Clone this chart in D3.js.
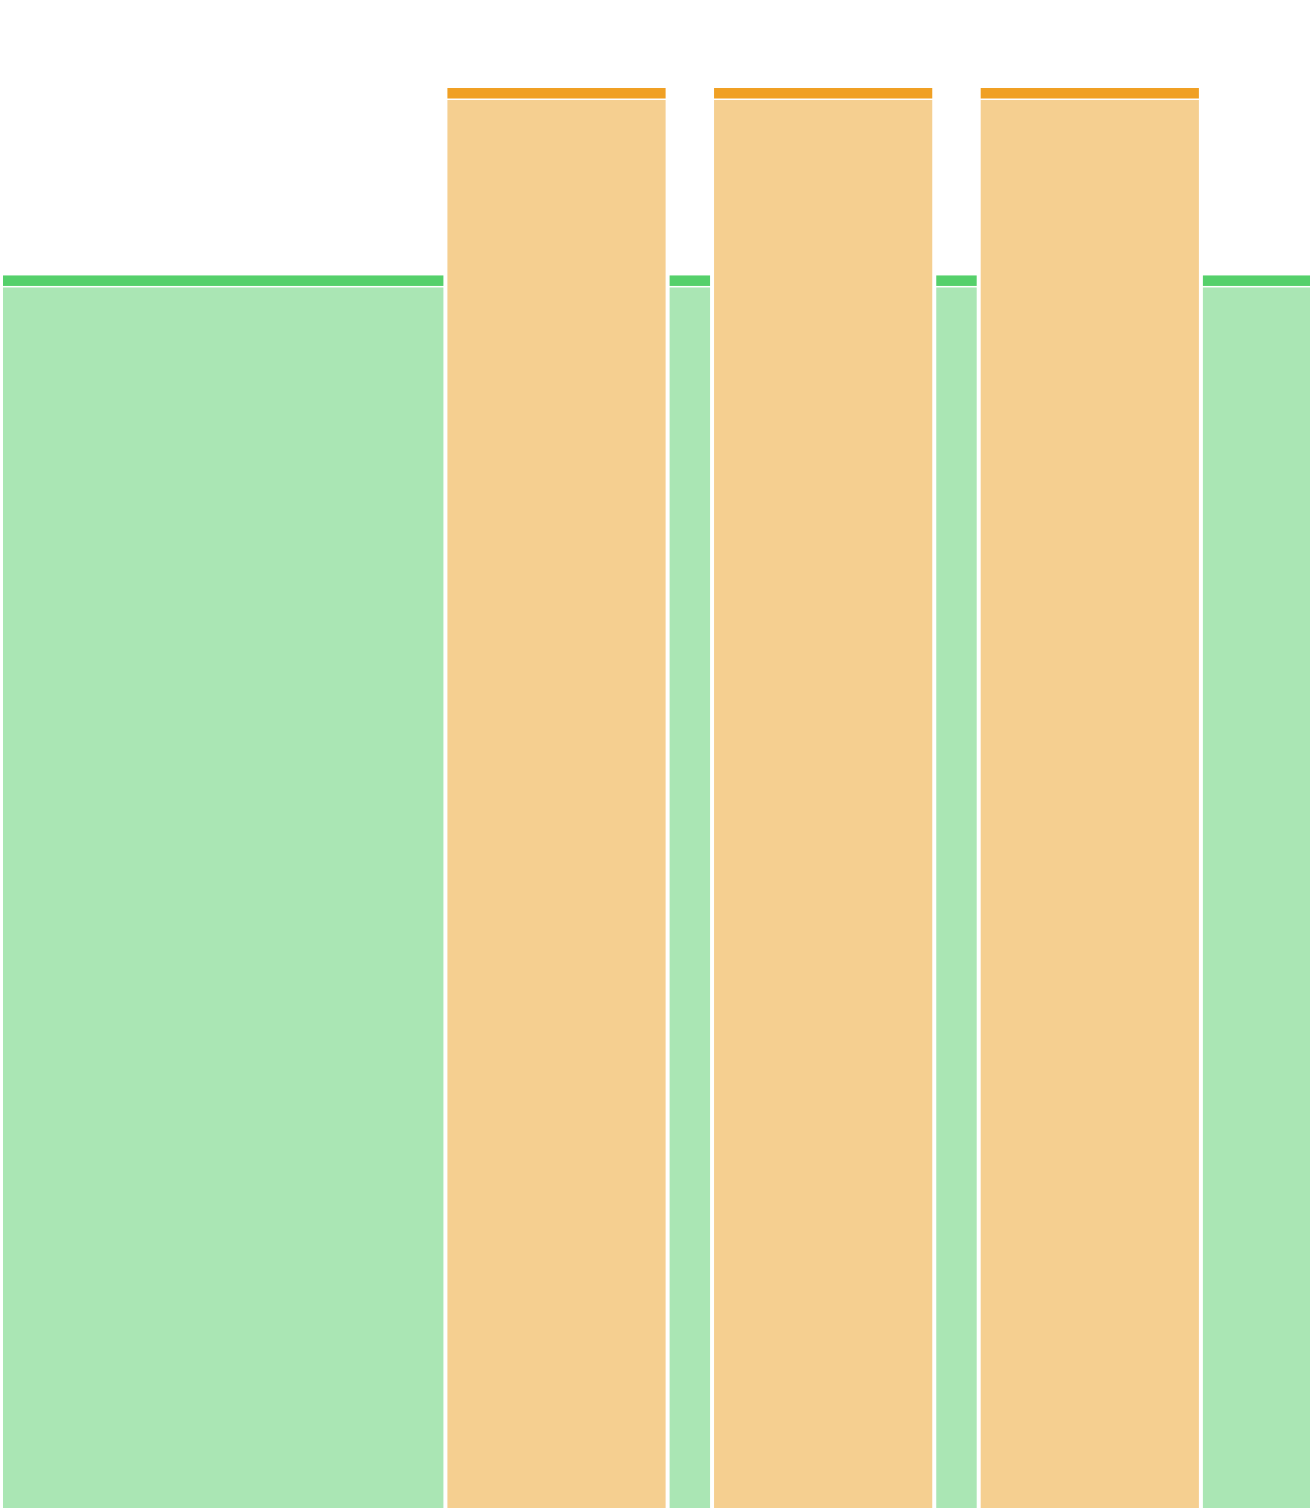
<!DOCTYPE html>
<html>
<head>
<meta charset="utf-8">
<script src="https://cdn.jsdelivr.net/npm/d3@7"></script>
<style>
  html, body { margin: 0; padding: 0; background: #fff; }
  svg { display: block; }
</style>
</head>
<body>
<div id="chart"></div>
<script>
var width = 1312, height = 1508;

// segments in order, left to right
var segmentKind = ["green", "orange", "green", "orange", "green", "orange", "green"];
var segmentLength = [20, 10, 2, 10, 2, 10, 5];
var kindValue = { green: 86.8, orange: 100 };

var bandColor = { green: "#55d06b", orange: "#f0a024" };
var fillColor = { green: "#aae6b4", orange: "#f5cf90" };

// build start/end from lengths
var segments = [];
var pos = 0;
for (var i = 0; i < segmentKind.length; i++) {
    segments.push({ kind: segmentKind[i], start: pos, end: pos + segmentLength[i], value: kindValue[segmentKind[i]] });
    pos += segmentLength[i];
}

var x = d3.scaleLinear()
    .domain([0, pos])
    .range([1, width]);

var y = d3.scaleLinear()
    .domain([0, 100])
    .range([height, 88]);

var svg = d3.select("#chart").append("svg")
    .attr("width", width)
    .attr("height", height)
    .attr("viewBox", [0, 0, width, height]);

var pad = 2, band = 10.5, gap = 1.5;

var g = svg.append("g");

var seg = g.selectAll(".seg")
    .data(segments)
    .enter().append("g")
    .attr("class", "seg");

// top band
seg.append("rect")
    .attr("x", function (d) { return x(d.start) + pad; })
    .attr("width", function (d) { return x(d.end) - x(d.start) - 2 * pad; })
    .attr("y", function (d) { return y(d.value); })
    .attr("height", band)
    .style("fill", function (d) { return bandColor[d.kind]; });

// body
seg.append("rect")
    .attr("x", function (d) { return x(d.start) + pad; })
    .attr("width", function (d) { return x(d.end) - x(d.start) - 2 * pad; })
    .attr("y", function (d) { return y(d.value) + band + gap; })
    .attr("height", function (d) { return y(0) - y(d.value) - band - gap; })
    .style("fill", function (d) { return fillColor[d.kind]; });
</script>
</body>
</html>
